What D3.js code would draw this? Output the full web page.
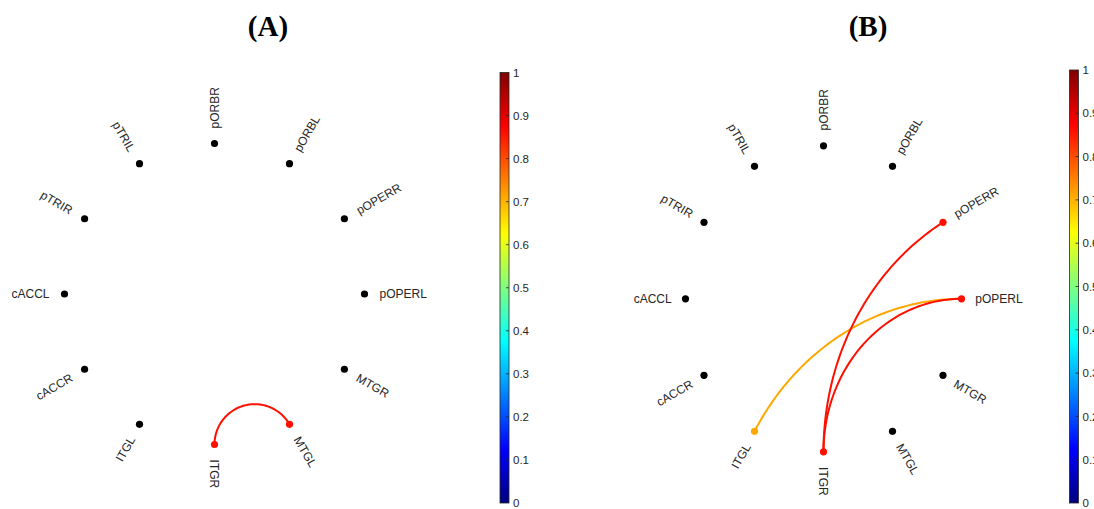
<!DOCTYPE html>
<html>
<head>
<meta charset="utf-8">
<script src="https://cdn.jsdelivr.net/npm/d3@7"></script>
<style>
  html, body { margin: 0; padding: 0; background: #fff; }
  svg { display: block; }
</style>
</head>
<body>
<div id="chart"></div>
<script>
// node order, clockwise starting from the right (3 o'clock)
const nodeLabels = ["pOPERL", "MTGR", "MTGL", "ITGR", "ITGL", "cACCR",
                    "cACCL", "pTRIR", "pTRIL", "pORBR", "pORBL", "pOPERR"];

// connections, value on the 0..1 colour scale
const edgesA = [
  { source: "ITGR", target: "MTGL", value: 0.86 }
];
const edgesB = [
  { source: "ITGL", target: "pOPERL", value: 0.71 },
  { source: "ITGR", target: "pOPERL", value: 0.86 },
  { source: "ITGR", target: "pOPERR", value: 0.86 }
];

const colorbarTicks = [0, 0.1, 0.2, 0.3, 0.4, 0.5, 0.6, 0.7, 0.8, 0.9, 1];
const panelTitles = ["(A)", "(B)"];

const width = 1094, height = 509;

// MATLAB-style jet colormap
const jetDomain = [0, 0.125, 0.375, 0.625, 0.875, 1];
const jetRange = ["#00007f", "#0000ff", "#00ffff", "#ffff00", "#ff0000", "#7f0000"];
const jet = d3.scaleLinear().domain(jetDomain).range(jetRange).interpolate(d3.interpolateRgb);

const svg = d3.select("#chart")
  .append("svg")
  .attr("width", width)
  .attr("height", height)
  .style("font-family", "'Liberation Sans', Arial, sans-serif");

svg.append("rect").attr("width", width).attr("height", height).attr("fill", "#fff");

// gradient for the colorbars
const defs = svg.append("defs");
const grad = defs.append("linearGradient")
  .attr("id", "jetGrad")
  .attr("x1", 0).attr("y1", 1).attr("x2", 0).attr("y2", 0);
jetDomain.forEach((d, i) => {
  grad.append("stop").attr("offset", d).attr("stop-color", jetRange[i]);
});

const panels = [
  { title: panelTitles[0], titleX: 268, cx: 214.5, cy: 294, rx: 150, ry: 150.5,
    edges: edgesA, bar: { x: 500, top: 72.5, bottom: 503 } },
  { title: panelTitles[1], titleX: 868, cx: 823.5, cy: 298.8, rx: 138, ry: 153,
    edges: edgesB, bar: { x: 1069.5, top: 70, bottom: 503 } }
];

const n = nodeLabels.length;
const angleOf = (name) => nodeLabels.indexOf(name) * 2 * Math.PI / n;

// arc orthogonal to the unit circle between two nodes (like circularGraph)
function arcPoints(t1, t2) {
  const u = [Math.cos(t1), Math.sin(t1)];
  const v = [Math.cos(t2), Math.sin(t2)];
  let delta = Math.abs(t1 - t2) % (2 * Math.PI);
  if (delta > Math.PI) delta = 2 * Math.PI - delta;
  if (Math.abs(delta - Math.PI) < 1e-6) return [u, v];
  const phi = Math.atan2(u[1] + v[1], u[0] + v[0]);
  const half = delta / 2;
  const c = [Math.cos(phi) / Math.cos(half), Math.sin(phi) / Math.cos(half)];
  const r = Math.tan(half);
  const a1 = Math.atan2(u[1] - c[1], u[0] - c[0]);
  let a2 = Math.atan2(v[1] - c[1], v[0] - c[0]);
  let da = a2 - a1;
  while (da > Math.PI) da -= 2 * Math.PI;
  while (da < -Math.PI) da += 2 * Math.PI;
  return d3.range(61).map(k => {
    const a = a1 + da * k / 60;
    return [c[0] + r * Math.cos(a), c[1] + r * Math.sin(a)];
  });
}

panels.forEach(p => {
  const g = svg.append("g");

  const x = d3.scaleLinear().domain([-1, 1]).range([p.cx - p.rx, p.cx + p.rx]);
  const y = d3.scaleLinear().domain([-1, 1]).range([p.cy - p.ry, p.cy + p.ry]);

  // title
  g.append("text")
    .attr("x", p.titleX)
    .attr("y", 36)
    .attr("text-anchor", "middle")
    .style("font-family", "'Liberation Serif', 'Times New Roman', serif")
    .style("font-weight", "bold")
    .style("font-size", "29px")
    .attr("fill", "#000")
    .text(p.title);

  // edges, weakest first
  const line = d3.line().x(d => x(d[0])).y(d => y(d[1]));
  const edges = p.edges.slice().sort((a, b) => a.value - b.value);
  g.selectAll("path.edge")
    .data(edges)
    .enter()
    .append("path")
    .attr("class", "edge")
    .attr("fill", "none")
    .attr("stroke", d => jet(d.value))
    .attr("stroke-width", 2)
    .attr("d", d => line(arcPoints(angleOf(d.source), angleOf(d.target))));

  // node colour = strongest incident edge
  const nodeColor = (name) => {
    const inc = p.edges.filter(e => e.source === name || e.target === name);
    if (!inc.length) return "#000";
    return jet(d3.max(inc, e => e.value));
  };

  const nodes = nodeLabels.map(name => ({ name, t: angleOf(name) }));

  g.selectAll("circle.node")
    .data(nodes)
    .enter()
    .append("circle")
    .attr("class", "node")
    .attr("cx", d => x(Math.cos(d.t)))
    .attr("cy", d => y(Math.sin(d.t)))
    .attr("r", 3.6)
    .attr("fill", d => nodeColor(d.name));

  // labels, radial
  g.selectAll("text.label")
    .data(nodes)
    .enter()
    .append("text")
    .attr("class", "label")
    .attr("transform", d => {
      const deg = d.t * 180 / Math.PI;
      const left = Math.cos(d.t) < -1e-6;
      const rot = left ? deg - 180 : (deg > 180 ? deg - 360 : deg);
      return `translate(${x(1.1 * Math.cos(d.t))},${y(1.1 * Math.sin(d.t))}) rotate(${rot})`;
    })
    .attr("text-anchor", d => Math.cos(d.t) < -1e-6 ? "end" : "start")
    .attr("dy", "0.35em")
    .style("font-size", "12px")
    .attr("fill", "#262626")
    .text(d => d.name);

  // colorbar
  const bw = 9;
  const cb = d3.scaleLinear().domain([0, 1]).range([p.bar.bottom, p.bar.top]);
  g.append("rect")
    .attr("x", p.bar.x)
    .attr("y", p.bar.top)
    .attr("width", bw)
    .attr("height", p.bar.bottom - p.bar.top)
    .attr("fill", "url(#jetGrad)")
    .attr("stroke", "#262626")
    .attr("stroke-width", 0.8);

  const axis = d3.axisRight(cb)
    .tickValues(colorbarTicks)
    .tickSize(0)
    .tickPadding(4)
    .tickFormat(d => d === 0 || d === 1 ? d3.format("d")(d) : d3.format(".1f")(d));

  const ag = g.append("g")
    .attr("transform", `translate(${p.bar.x + bw},0)`)
    .call(axis);
  ag.select(".domain").remove();
  ag.selectAll("text")
    .style("font-family", "'Liberation Sans', Arial, sans-serif")
    .style("font-size", "11.5px")
    .attr("fill", "#262626");

  // small inner tick marks
  g.selectAll("line.cbtick")
    .data(colorbarTicks.filter(d => d > 0 && d < 1))
    .enter()
    .append("line")
    .attr("class", "cbtick")
    .attr("x1", p.bar.x + bw - 3)
    .attr("x2", p.bar.x + bw)
    .attr("y1", d => cb(d))
    .attr("y2", d => cb(d))
    .attr("stroke", "#262626")
    .attr("stroke-width", 0.8);
});
</script>
</body>
</html>
